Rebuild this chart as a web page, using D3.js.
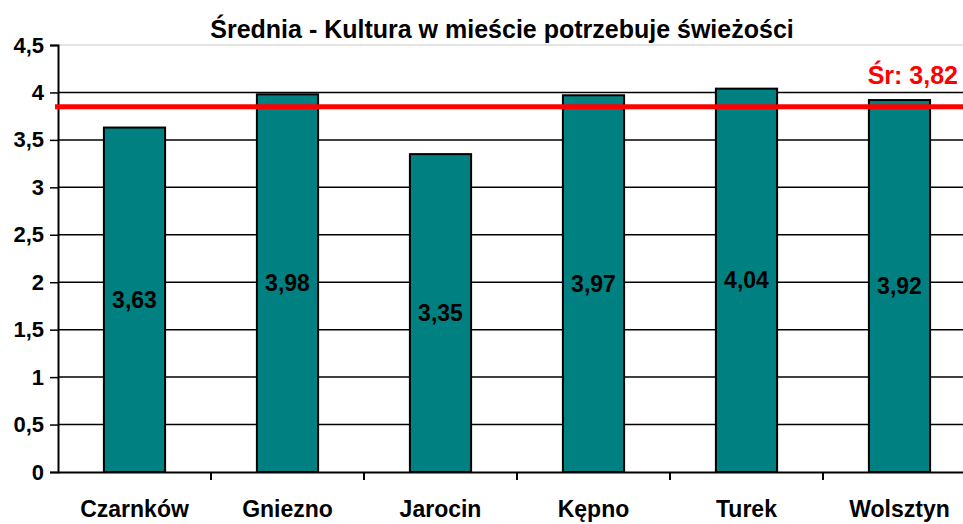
<!DOCTYPE html>
<html>
<head>
<meta charset="utf-8">
<script src="https://cdn.jsdelivr.net/npm/d3@7"></script>
<style>
  body { margin: 0; background: #fff; }
  text { font-family: Arial, "Liberation Sans", sans-serif; font-weight: bold; }
</style>
</head>
<body>
<script>
// data
var cities = ["Czarnków", "Gniezno", "Jarocin", "Kępno", "Turek", "Wolsztyn"];
var values = [3.63, 3.98, 3.35, 3.97, 4.04, 3.92];
var yTicks = [0, 0.5, 1, 1.5, 2, 2.5, 3, 3.5, 4, 4.5];
var meanLabel = "Śr: 3,82";
var meanLine = 3.85; // where the red line sits in the picture
var title = "Średnia - Kultura w mieście potrzebuje świeżości";

var W = 963, H = 524;
var margin = { top: 45, left: 58, bottom: 52 };
var plotRight = 976; // plot is cut off by the right edge

var comma = function(d) { return String(d).replace(".", ","); };

var svg = d3.select("body").append("svg")
  .attr("width", W)
  .attr("height", H);

var x = d3.scaleBand()
  .domain(cities)
  .range([margin.left, plotRight])
  .padding(0);

var y = d3.scaleLinear()
  .domain([0, 4.5])
  .range([H - margin.bottom, margin.top]);

// gridlines
svg.append("g").selectAll("line")
  .data(yTicks.filter(function(d) { return d > 0; }))
  .enter().append("line")
  .attr("x1", margin.left).attr("x2", W)
  .attr("y1", function(d) { return y(d); })
  .attr("y2", function(d) { return y(d); })
  .attr("stroke", function(d) { return d === 4.5 ? "#c8c8c8" : "#000"; })
  .attr("stroke-width", function(d) { return d === 4.5 ? 1 : 1.5; });

// bars
var barW = x.bandwidth() * 0.4;
svg.append("g").selectAll("rect")
  .data(values)
  .enter().append("rect")
  .attr("x", function(d, i) { return x(cities[i]) + (x.bandwidth() - barW) / 2; })
  .attr("y", function(d) { return y(d); })
  .attr("width", barW)
  .attr("height", function(d) { return y(0) - y(d); })
  .attr("fill", "#008080")
  .attr("stroke", "#000")
  .attr("stroke-width", 2);

// value labels
svg.append("g").selectAll("text")
  .data(values)
  .enter().append("text")
  .attr("x", function(d, i) { return x(cities[i]) + x.bandwidth() / 2; })
  .attr("y", function(d) { return (y(d) + y(0)) / 2; })
  .attr("dy", "0.35em")
  .attr("text-anchor", "middle")
  .attr("font-size", 23)
  .attr("fill", "#000")
  .text(function(d) { return d.toFixed(2).replace(".", ","); });

// y axis
var yAxis = d3.axisLeft(y)
  .tickValues(yTicks)
  .tickSize(8)
  .tickPadding(6)
  .tickFormat(comma);

var gy = svg.append("g")
  .attr("transform", "translate(" + margin.left + ",0)")
  .call(yAxis);
gy.select(".domain").attr("stroke", "#000").attr("stroke-width", 2);
gy.selectAll(".tick line").attr("stroke", "#000").attr("stroke-width", 1.5);
gy.selectAll(".tick text").attr("font-size", 22).attr("fill", "#000")
  .style("font-family", "Arial, 'Liberation Sans', sans-serif");

// x axis
var xAxis = d3.axisBottom(x).tickSize(0).tickPadding(29);
var gx = svg.append("g")
  .attr("transform", "translate(0," + y(0) + ")")
  .call(xAxis);
gx.select(".domain").attr("stroke", "#000").attr("stroke-width", 2);
gx.selectAll(".tick text").attr("font-size", 23).attr("fill", "#000")
  .attr("dy", "0.71em")
  .style("font-family", "Arial, 'Liberation Sans', sans-serif");

// category boundary ticks
gx.append("g").selectAll("line")
  .data(cities.slice(1))
  .enter().append("line")
  .attr("x1", function(d) { return x(d); })
  .attr("x2", function(d) { return x(d); })
  .attr("y1", 0).attr("y2", 8)
  .attr("stroke", "#000").attr("stroke-width", 2);

// mean line
svg.append("line")
  .attr("x1", margin.left - 3).attr("x2", W)
  .attr("y1", y(meanLine)).attr("y2", y(meanLine))
  .attr("stroke", "#ff0000")
  .attr("stroke-width", 5);

svg.append("text")
  .attr("x", 958)
  .attr("y", 84)
  .attr("text-anchor", "end")
  .attr("font-size", 25)
  .attr("fill", "#ff0000")
  .text(meanLabel);

// title
svg.append("text")
  .attr("x", 502)
  .attr("y", 38)
  .attr("text-anchor", "middle")
  .attr("font-size", 25)
  .attr("fill", "#000")
  .text(title);
</script>
</body>
</html>
